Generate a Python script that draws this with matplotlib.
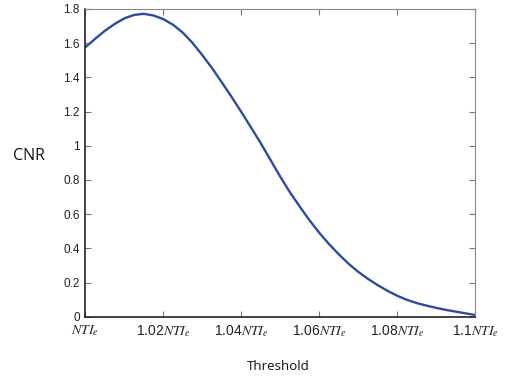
import matplotlib
matplotlib.use("Agg")
import matplotlib.pyplot as plt

threshold = [1.000, 1.0025, 1.005, 1.0075, 1.010, 1.0125, 1.015, 1.0175, 1.020,
             1.0225, 1.025, 1.0275, 1.030, 1.0325, 1.035, 1.0375, 1.040, 1.0425,
             1.045, 1.0475, 1.050, 1.0525, 1.055, 1.0575, 1.060, 1.0625, 1.065,
             1.0675, 1.070, 1.0725, 1.075, 1.0775, 1.080, 1.0825, 1.085, 1.0875,
             1.090, 1.0925, 1.095, 1.0975, 1.100]
cnr = [1.576, 1.625, 1.672, 1.712, 1.745, 1.765, 1.772, 1.762, 1.741,
       1.708, 1.662, 1.602, 1.531, 1.455, 1.372, 1.287, 1.199, 1.108,
       1.016, 0.918, 0.820, 0.728, 0.645, 0.565, 0.492, 0.426, 0.366,
       0.311, 0.263, 0.222, 0.185, 0.152, 0.123, 0.099, 0.080, 0.065,
       0.052, 0.040, 0.030, 0.020, 0.010]

xticks = [1.00, 1.02, 1.04, 1.06, 1.08, 1.10]
xticklabels = [r"$NTI_e$", r"1.02$NTI_e$", r"1.04$NTI_e$", r"1.06$NTI_e$",
               r"1.08$NTI_e$", r"1.1$NTI_e$"]
yticks = [0, 0.2, 0.4, 0.6, 0.8, 1.0, 1.2, 1.4, 1.6, 1.8]
yticklabels = ["0", "0.2", "0.4", "0.6", "0.8", "1", "1.2", "1.4", "1.6", "1.8"]

plt.rcParams['mathtext.fontset'] = 'stix'

fig = plt.figure(figsize=(5.08, 3.81), dpi=100)
ax = fig.add_axes([85.3/508, 1-316.7/381, (475-85.3)/508, (316.7-9)/381])

ax.plot(threshold, cnr, color="#2b4ba6", lw=1.7, solid_capstyle='round',
        solid_joinstyle='round')
ax.set_xlim(1.0, 1.1)
ax.set_ylim(0, 1.8)

ax.set_xticks(xticks)
ax.set_xticklabels(xticklabels, fontsize=10, family="Liberation Sans")
ax.set_yticks(yticks)
ax.set_yticklabels(yticklabels, fontsize=8.5, family="Liberation Sans")

ax.tick_params(direction='in', top=True, right=True, length=4, width=0.8,
               color='#777777', labelcolor='#222222', pad=4)
ax.tick_params(axis='x', pad=5)

for s in ['top', 'right']:
    ax.spines[s].set_color('#888888')
    ax.spines[s].set_linewidth(0.8)
for s in ['left', 'bottom']:
    ax.spines[s].set_color('#222222')
    ax.spines[s].set_linewidth(1.2)

fig.text(29/508, 1-156.5/381, "CNR", fontsize=11.5, family="Open Sans",
         ha='center', va='center', color='#111111')
fig.text(278/508, 1-366/381, "Threshold", fontsize=9.5, family="Open Sans",
         weight='medium', ha='center', va='center', color='#111111')

fig.savefig("out.png", dpi=100)
